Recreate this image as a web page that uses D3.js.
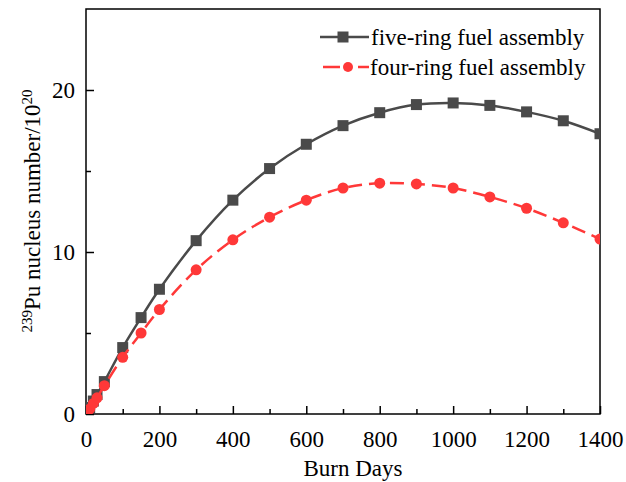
<!DOCTYPE html>
<html><head><meta charset="utf-8">
<script src="https://cdn.jsdelivr.net/npm/d3@7"></script>
<style>body{margin:0;background:#fff}svg{display:block}text{font-family:"Liberation Serif","Times New Roman",serif;}</style>
</head><body>
<svg id="c" width="626" height="482"></svg>
<script>
const days = [0, 10, 20, 30, 50, 100, 150, 200, 300, 400, 500, 600, 700, 800, 900, 1000, 1100, 1200, 1300, 1400];
const fiveRing = [0, 0.4, 0.8, 1.2, 2.0, 4.1, 5.95, 7.7, 10.7, 13.2, 15.15, 16.65, 17.8, 18.6, 19.1, 19.2, 19.05, 18.65, 18.1, 17.3];
const fourRing = [0, 0.3, 0.65, 1.0, 1.75, 3.5, 5.0, 6.45, 8.9, 10.75, 12.15, 13.2, 13.95, 14.25, 14.2, 13.95, 13.4, 12.7, 11.8, 10.8];
const xTicks = [0, 200, 400, 600, 800, 1000, 1200, 1400];
const yTicks = [0, 10, 20];
const seriesNames = ["five-ring fuel assembly", "four-ring fuel assembly"];

const svg = d3.select("#c");
const L = 86, R = 600, T = 9, B = 414;
const x = d3.scaleLinear().domain([0, 1400]).range([L, R]);
const y = d3.scaleLinear().domain([0, 25]).range([B, T]);
const FS = 23;

// frame
svg.append("rect").attr("x", L).attr("y", T).attr("width", R - L).attr("height", B - T)
  .attr("fill", "none").attr("stroke", "#000").attr("stroke-width", 1.5);

// axes with inward ticks
svg.append("g").attr("transform", `translate(0,${B})`)
  .call(d3.axisBottom(x).tickValues(xTicks).tickSize(-8).tickPadding(17).tickFormat(d3.format("d")));
svg.append("g").attr("transform", `translate(0,${B})`)
  .call(d3.axisBottom(x).tickValues(d3.range(100, 1400, 200)).tickSize(-5).tickFormat(""));
svg.append("g").attr("transform", `translate(${L},0)`)
  .call(d3.axisLeft(y).tickValues(yTicks).tickSize(-8).tickPadding(11));
svg.append("g").attr("transform", `translate(${L},0)`)
  .call(d3.axisLeft(y).tickValues([5, 15]).tickSize(-5).tickFormat(""));
svg.selectAll(".domain").remove();
svg.selectAll(".tick line").attr("stroke", "#000").attr("stroke-width", 1.5);
svg.selectAll(".tick text").attr("font-size", FS).attr("fill", "#000")
  .style("font-family", '"Liberation Serif", serif');

const line = d3.line().x((d, i) => x(days[i])).y(d => y(d)).curve(d3.curveCatmullRom);
const g = svg.append("g");
g.append("clipPath").attr("id", "clp").append("rect").attr("x", L).attr("y", T).attr("width", R - L).attr("height", B - T);
const plot = g.append("g").attr("clip-path", "url(#clp)");

plot.append("path").datum(fiveRing).attr("d", line).attr("fill", "none")
  .attr("stroke", "#4a4a4a").attr("stroke-width", 2.5);
plot.selectAll(".sq").data(fiveRing).join("rect")
  .attr("x", (d, i) => x(days[i]) - 5.5).attr("y", d => y(d) - 5.5).attr("width", 11).attr("height", 11)
  .attr("fill", "#4a4a4a");

plot.append("path").datum(fourRing).attr("d", line).attr("fill", "none")
  .attr("stroke", "#ff3838").attr("stroke-width", 2.5).attr("stroke-dasharray", "14,7");
plot.selectAll(".ci").data(fourRing).join("circle")
  .attr("cx", (d, i) => x(days[i])).attr("cy", d => y(d)).attr("r", 5.5)
  .attr("fill", "#ff3838");

// legend
const lg = svg.append("g");
lg.append("line").attr("x1", 320).attr("x2", 369).attr("y1", 37).attr("y2", 37).attr("stroke", "#4a4a4a").attr("stroke-width", 2.5);
lg.append("rect").attr("x", 337.5).attr("y", 31.5).attr("width", 11).attr("height", 11).attr("fill", "#4a4a4a");
lg.append("text").attr("x", 371).attr("y", 45).attr("font-size", FS).text(seriesNames[0]);
lg.append("line").attr("x1", 323).attr("x2", 369).attr("y1", 67).attr("y2", 67).attr("stroke", "#ff3838").attr("stroke-width", 2.5).attr("stroke-dasharray", "17,18,11");
lg.append("circle").attr("cx", 348).attr("cy", 67).attr("r", 5).attr("fill", "#ff3838");
lg.append("text").attr("x", 370).attr("y", 75).attr("font-size", FS).text(seriesNames[1]);

// axis titles
svg.append("text").attr("x", 353).attr("y", 476).attr("text-anchor", "middle").attr("font-size", FS).text("Burn Days");
const yl = svg.append("text").attr("transform", "translate(40,211) rotate(-90)").attr("text-anchor", "middle").attr("font-size", FS);
yl.append("tspan").attr("font-size", 15).attr("dy", -8).text("239");
yl.append("tspan").attr("dy", 8).text("Pu nucleus number/10");
yl.append("tspan").attr("font-size", 15).attr("dy", -8).text("20");
</script>
</body></html>
